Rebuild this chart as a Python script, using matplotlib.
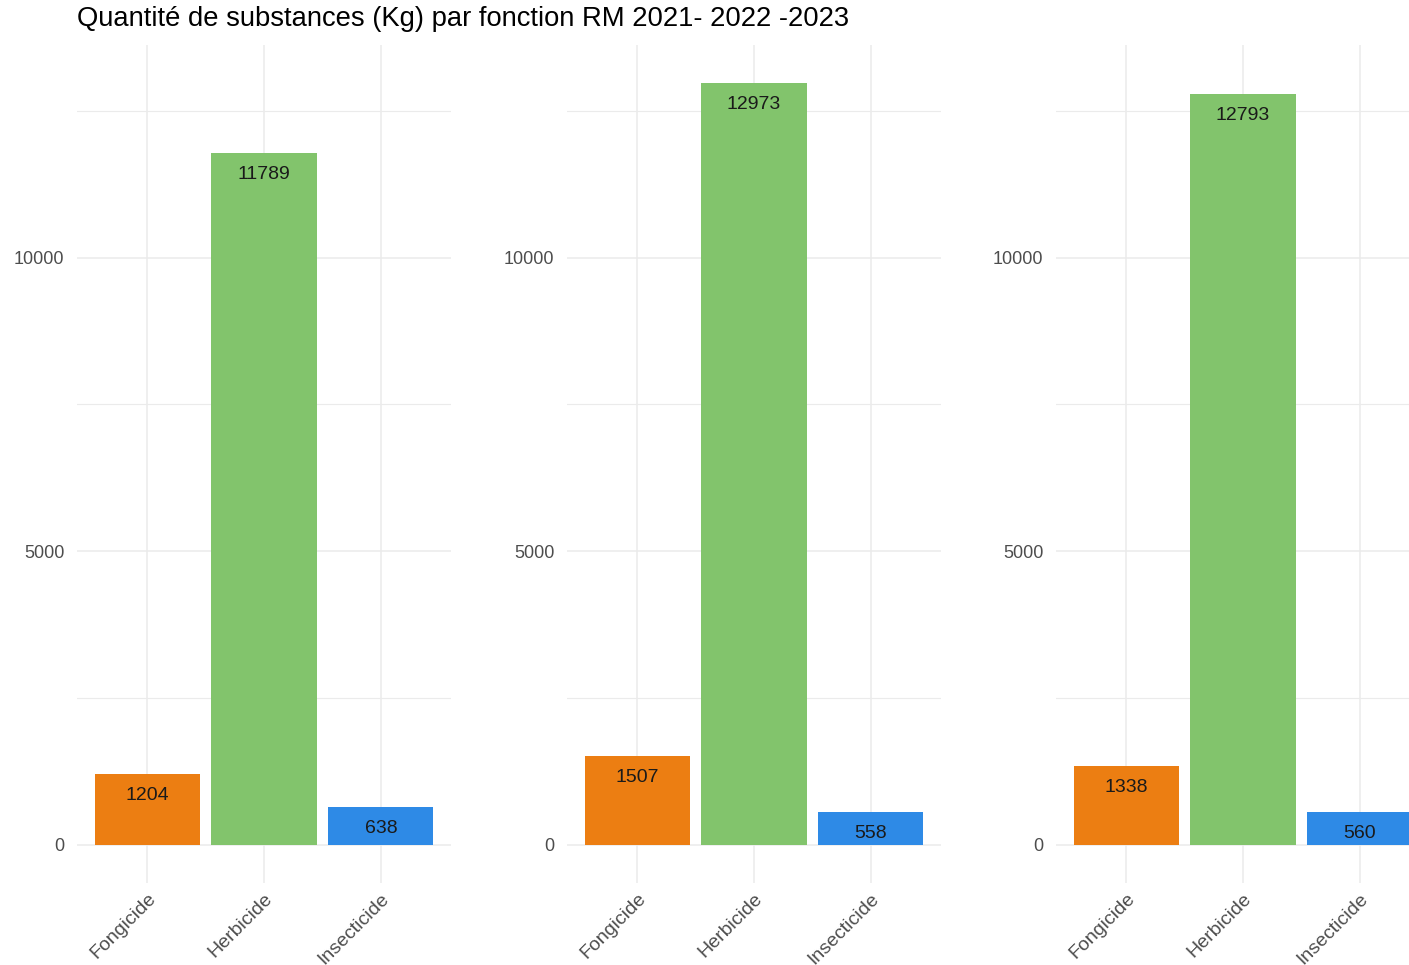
import matplotlib.pyplot as plt
import matplotlib.transforms as mtransforms
from matplotlib.ticker import FixedLocator

# data
categories = ['Fongicide', 'Herbicide', 'Insecticide']
qte_2021 = [1204, 11789, 638]
qte_2022 = [1507, 12973, 558]
qte_2023 = [1338, 12793, 560]
colors = ['#EC7E12', '#82C46C', '#2E8AE6']

plt.rcParams['font.family'] = ['Liberation Sans', 'DejaVu Sans']

W, H = 1409, 965
fig = plt.figure(figsize=(W / 100, H / 100), dpi=100)

# panel placement in pixels (left edge), panel width / vertical extent
panel_lefts = [77, 567, 1056]
panel_w = 374
top_px, bot_px = 45, 883

ymax = max(qte_2021 + qte_2022 + qte_2023)
ylim = (-0.05 * ymax, 1.05 * ymax)

for left, values in zip(panel_lefts, [qte_2021, qte_2022, qte_2023]):
    ax = fig.add_axes([left / W, (H - bot_px) / H, panel_w / W, (bot_px - top_px) / H])
    x = list(range(len(categories)))
    ax.bar(x, values, width=0.9, color=colors, zorder=2)
    for xi, v in zip(x, values):
        ax.annotate(str(v), (xi, v), xytext=(0, -15.5), textcoords='offset points',
                    ha='center', va='center', fontsize=14, color='#1a1a1a', zorder=3)
    ax.set_xlim(-0.6, len(categories) - 0.4)
    ax.set_ylim(*ylim)
    ax.yaxis.set_major_locator(FixedLocator([0, 5000, 10000]))
    ax.yaxis.set_minor_locator(FixedLocator([2500, 7500, 12500]))
    ax.set_xticks(x)
    ax.set_xticklabels(categories, rotation=45, ha='right', va='top',
                       rotation_mode='anchor', fontsize=14, color='#4D4D4D')
    # nudge the rotated labels a little to the right
    shift = mtransforms.ScaledTranslation(4 / 100, 0, fig.dpi_scale_trans)
    for lab in ax.get_xticklabels():
        lab.set_transform(lab.get_transform() + shift)
    ax.tick_params(axis='y', labelsize=13, labelcolor='#4D4D4D', length=0, pad=9)
    ax.tick_params(axis='x', length=0, pad=5)
    ax.tick_params(axis='y', which='minor', length=0)
    ax.grid(True, which='major', color='#EBEBEB', linewidth=1.1, zorder=0)
    ax.grid(True, which='minor', axis='y', color='#EBEBEB', linewidth=0.8, zorder=0)
    for s in ax.spines.values():
        s.set_visible(False)
    ax.set_axisbelow(True)

fig.text(77 / W, 1 - 19 / H, 'Quantité de substances (Kg) par fonction RM 2021- 2022 -2023',
         ha='left', va='center', fontsize=19.7, color='black')

fig.savefig('out.png', dpi=100)
